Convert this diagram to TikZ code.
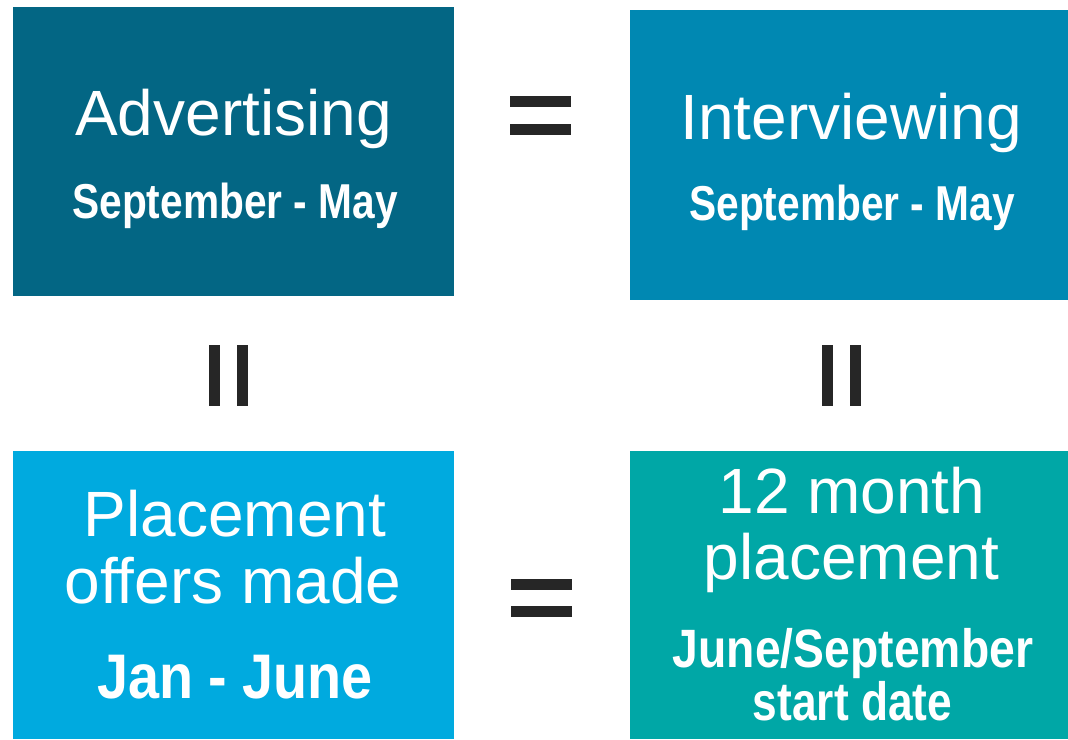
\documentclass[tikz,border=0pt]{standalone}
\usepackage{fontspec}
\setmainfont{Liberation Sans}
\definecolor{boxA}{HTML}{036684}
\definecolor{boxB}{HTML}{0088B2}
\definecolor{boxC}{HTML}{00AADF}
\definecolor{boxD}{HTML}{00A7A6}
\definecolor{eqc}{HTML}{262626}
\begin{document}
\begin{tikzpicture}[x=1pt,y=-1pt,
  panel/.style={fill=#1,draw=none,inner sep=0pt,outer sep=0pt},
  regtext/.style={text=white,inner sep=0pt,anchor=base,font=\fontsize{64}{64}\selectfont},
  boldtext/.style={text=white,inner sep=0pt,anchor=base,font=\bfseries\fontsize{#1}{#1}\selectfont},
  eqbar/.style={fill=eqc,draw=none}]
\useasboundingbox (0,0) rectangle (1068,739);
% panels
\node[panel=boxA,minimum width=441pt,minimum height=289pt] (adv) at (233.5,151.5) {};
\node[panel=boxB,minimum width=438pt,minimum height=290pt] (int) at (849,155) {};
\node[panel=boxC,minimum width=441pt,minimum height=288pt] (off) at (233.5,595) {};
\node[panel=boxD,minimum width=438pt,minimum height=288pt] (plc) at (849,595) {};
% texts
\node[regtext] (advT) at (233.5,135) {Advertising};
\node[boldtext=49] (advD) at (235,218) {\scalebox{0.83}[1]{September - May}};
\node[regtext] (intT) at (851,139) {Interviewing};
\node[boldtext=49] (intD) at (852,220) {\scalebox{0.83}[1]{September - May}};
\node[regtext] (offT1) at (235,536) {Placement};
\node[regtext] (offT2) at (233,603) {offers made};
\node[boldtext=63] (offD) at (235,698) {\scalebox{0.885}[1]{Jan - June}};
\node[regtext] (plcT1) at (852,513) {12 month};
\node[regtext] (plcT2) at (851.5,579) {placement};
\node[boldtext=54] (plcD1) at (853,667) {\scalebox{0.857}[1]{June/September}};
\node[boldtext=54] (plcD2) at (852.5,720) {\scalebox{0.82}[1]{start date}};
% equals signs
\fill[eqbar] (510,96) rectangle (571,107);
\fill[eqbar] (510,124) rectangle (571,135);
\fill[eqbar] (511,579) rectangle (572,590);
\fill[eqbar] (511,606) rectangle (572,617);
\fill[eqbar] (209,345) rectangle (220,406);
\fill[eqbar] (237,345) rectangle (248,406);
\fill[eqbar] (822,345) rectangle (833,406);
\fill[eqbar] (850,345) rectangle (861,406);
\end{tikzpicture}
\end{document}
